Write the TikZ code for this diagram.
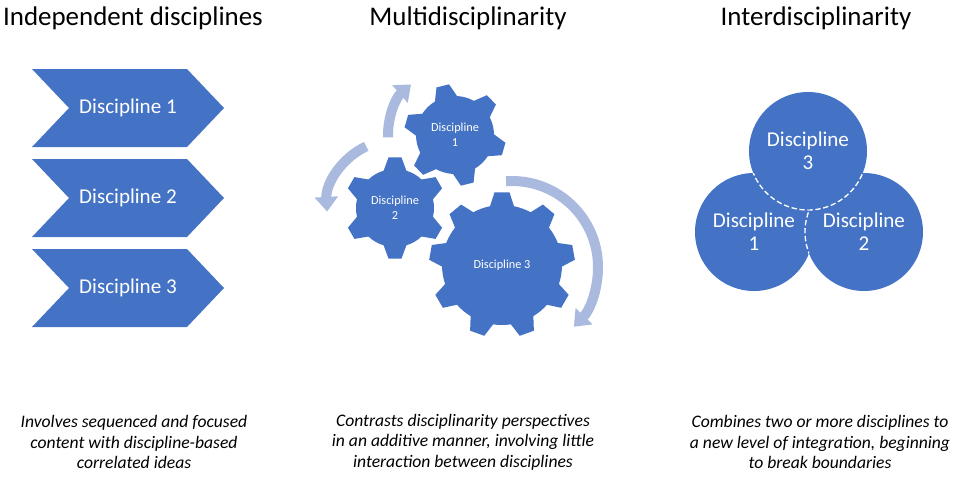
\documentclass[tikz,border=0pt]{standalone}
\usepackage{fontspec}
\setmainfont{Carlito}
\usetikzlibrary{arrows.meta,shapes.symbols,calc}

\definecolor{discblue}{HTML}{4472C4}
\definecolor{cyclearrow}{HTML}{AABADF}

\tikzset{
  heading/.style={font=\fontsize{20.2}{24}\selectfont},
  caption/.style={align=center,font=\itshape\fontsize{13.2}{15.4}\selectfont},
  chevron/.style={shape=signal,signal from=west,signal to=east,signal pointer angle=93,
    fill=discblue,text=white,minimum width=144pt,minimum height=58.5pt,inner sep=0pt,
    font=\fontsize{15.8}{19}\selectfont},
  disc/.style={circle,fill=discblue,text=white,minimum size=88.5pt,inner sep=0pt,
    align=center,font=\fontsize{15.8}{17.2}\selectfont},
  geartext/.style={text=white,align=center,font=\fontsize{9.2}{11}\selectfont},
  cyclearc/.style={draw=cyclearrow,line width=7.5pt,-{Triangle[width=17pt,length=11pt]}},
  seam/.style={draw=white,line width=1pt,dash pattern=on 4pt off 2pt},
}

% center, teeth, body radius, tip radius, base half angle, tip half angle, phase
\newcommand{\cog}[7]{%
  \begin{scope}[shift={(#1)}]
    \fill[discblue] ({#7-#5}:#3)
      \foreach \k in {1,...,#2}{
        -- ({#7+(\k-1)*360/#2-#6}:#4) -- ({#7+(\k-1)*360/#2+#6}:#4)
        -- ({#7+(\k-1)*360/#2+#5}:#3)
        arc[start angle={#7+(\k-1)*360/#2+#5},end angle={#7+\k*360/#2-#5},radius=#3]
      } -- cycle;
  \end{scope}}

\begin{document}
\begin{tikzpicture}[x=0.75pt,y=-0.75pt]
  \useasboundingbox (0,0) rectangle (957,476);

  % headings
  \node[heading] (t1) at (133,18) {Independent disciplines};
  \node[heading] (t2) at (468,18) {Multidisciplinarity};
  \node[heading] (t3) at (816,18) {Interdisciplinarity};

  % independent disciplines
  \node[chevron] (ch1) at (128,108) {Discipline 1};
  \node[chevron] (ch2) at (128,198) {Discipline 2};
  \node[chevron] (ch3) at (128,288) {Discipline 3};

  % gears
  \coordinate (gc1) at (455,135);
  \coordinate (gc2) at (395,208);
  \coordinate (gc3) at (502,265);
  \cog{gc1}{6}{39}{51}{17}{7.3}{-104}
  \cog{gc2}{6}{39}{51}{17}{7.3}{-90}
  \cog{gc3}{9}{60}{73}{11.5}{5.9}{-90}
  \node[geartext] (g1) at (gc1) {Discipline\\1};
  \node[geartext] (g2) at (gc2) {Discipline\\2};
  \node[geartext] (g3) at (gc3) {Discipline 3};

  \draw[cyclearc] ($(gc1)+(-182:67)$) arc[start angle=-182,end angle=-131,radius=67];
  \draw[cyclearc] ($(gc2)+(-115:68)$) arc[start angle=-115,end angle=-183,radius=68];
  \coordinate (ac3) at (512,267);
  \draw[cyclearc] ($(ac3)+(-94:86)$) arc[start angle=-94,end angle=44,radius=86];

  % interdisciplinarity
  \node[disc] (c1) at (754,232) {Discipline\\1};
  \node[disc] (c2) at (864,232) {Discipline\\2};
  \begin{scope}
    \clip (c1.center) circle (59);
    \draw[seam] (c2.center) circle (59);
  \end{scope}
  \node[disc] (c3) at (808,151) {Discipline\\3};
  \begin{scope}
    \clip (c1.center) circle (59);
    \draw[seam] (c3.center) circle (59);
  \end{scope}
  \begin{scope}
    \clip (c2.center) circle (59);
    \draw[seam] (c3.center) circle (59);
  \end{scope}

  % captions
  \node[caption] (d1) at (134,442) {Involves sequenced and focused\\content with discipline-based\\correlated ideas};
  \node[caption] (d2) at (463,442) {Contrasts disciplinarity perspectives\\in an additive manner, involving little\\interaction between disciplines};
  \node[caption] (d3) at (820,442) {Combines two or more disciplines to\\a new level of integration, beginning\\to break boundaries};
\end{tikzpicture}
\end{document}
